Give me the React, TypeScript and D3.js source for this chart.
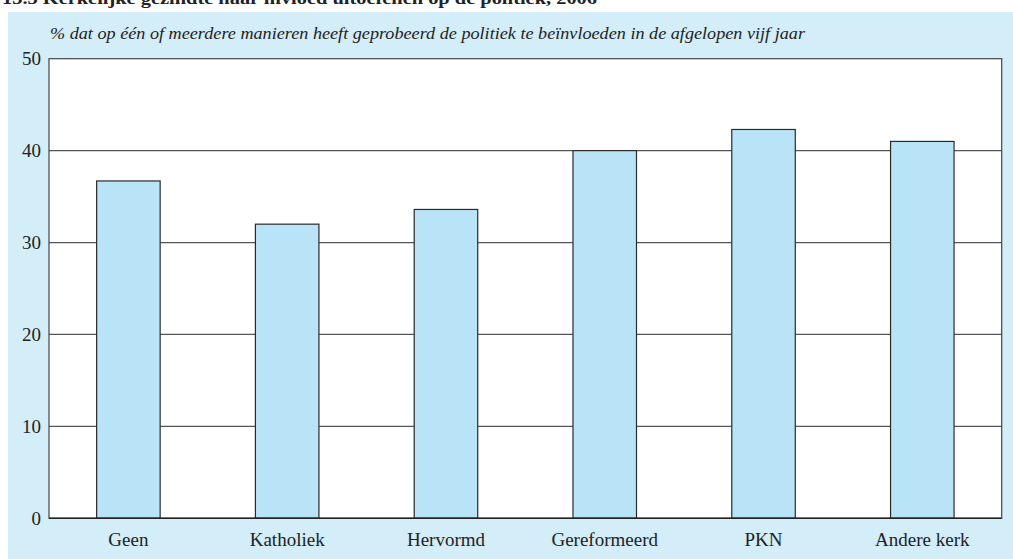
import { useEffect, useRef } from 'react';
import * as d3 from 'd3';

// Kerkelijke gezindte, % politieke invloed uitgeoefend
const CATEGORIES = ['Geen', 'Katholiek', 'Hervormd', 'Gereformeerd', 'PKN', 'Andere kerk'];
const VALUES = [36.7, 32.0, 33.6, 40.0, 42.3, 41.0];
const Y_TICKS = [0, 10, 20, 30, 40, 50];

const TITLE = '13.3 Kerkelijke gezindte naar invloed uitoefenen op de politiek, 2006';
const SUBTITLE =
  '% dat op één of meerdere manieren heeft geprobeerd de politiek te beïnvloeden in de afgelopen vijf jaar';

const WIDTH = 1013;
const HEIGHT = 559;
const FONT = '"Liberation Serif", "DejaVu Serif", serif';

export default function App() {
  const svgRef = useRef<SVGSVGElement | null>(null);

  useEffect(() => {
    document.body.style.margin = '0';
    if (!svgRef.current) return;

    const svg = d3.select(svgRef.current);
    svg.selectAll('*').remove();

    const margin = { top: 58.7, right: 11.3, bottom: 40.7, left: 49 };
    const innerWidth = WIDTH - margin.left - margin.right;
    const innerHeight = HEIGHT - margin.top - margin.bottom;

    // Title (cut off at the top edge, as in the source page)
    svg.append('text')
      .attr('x', 2)
      .attr('y', 3.5)
      .attr('font-family', FONT)
      .attr('font-weight', 'bold')
      .attr('font-size', 16)
      .attr('textLength', 595)
      .attr('lengthAdjust', 'spacingAndGlyphs')
      .attr('fill', '#222')
      .text(TITLE);

    // Light blue panel
    svg.append('rect')
      .attr('x', 8)
      .attr('y', 12)
      .attr('width', WIDTH - 8)
      .attr('height', HEIGHT - 12)
      .attr('fill', '#d3edf9');

    // Subtitle
    svg.append('text')
      .attr('x', 50)
      .attr('y', 38.5)
      .attr('font-family', FONT)
      .attr('font-style', 'italic')
      .attr('font-size', 17)
      .attr('textLength', 755)
      .attr('lengthAdjust', 'spacingAndGlyphs')
      .attr('fill', '#222')
      .text(SUBTITLE);

    const g = svg.append('g')
      .attr('transform', `translate(${margin.left},${margin.top})`);

    const x = d3.scaleBand<string>()
      .domain(CATEGORIES)
      .range([0, innerWidth])
      .paddingInner(0.6)
      .paddingOuter(0.3);

    const y = d3.scaleLinear()
      .domain([0, 50])
      .range([innerHeight, 0]);

    // Plot background
    g.append('rect')
      .attr('width', innerWidth)
      .attr('height', innerHeight)
      .attr('fill', '#ffffff');

    // Grid lines
    g.append('g')
      .selectAll('line')
      .data(Y_TICKS.filter((d) => d > 0 && d < 50))
      .join('line')
      .attr('x1', 0)
      .attr('x2', innerWidth)
      .attr('y1', (d) => y(d))
      .attr('y2', (d) => y(d))
      .attr('stroke', '#555')
      .attr('stroke-width', 1.2);

    // Bars
    g.append('g')
      .selectAll('rect')
      .data(VALUES)
      .join('rect')
      .attr('x', (_, i) => x(CATEGORIES[i]) as number)
      .attr('y', (d) => y(d))
      .attr('width', x.bandwidth())
      .attr('height', (d) => innerHeight - y(d))
      .attr('fill', '#b9e4f8')
      .attr('stroke', '#2a2a2a')
      .attr('stroke-width', 1.2);

    // Frame
    g.append('rect')
      .attr('width', innerWidth)
      .attr('height', innerHeight)
      .attr('fill', 'none')
      .attr('stroke', '#444')
      .attr('stroke-width', 1.2);

    g.append('line')
      .attr('x1', 0)
      .attr('x2', innerWidth)
      .attr('y1', innerHeight)
      .attr('y2', innerHeight)
      .attr('stroke', '#222')
      .attr('stroke-width', 1.4);

    // Y axis labels
    g.append('g')
      .selectAll('text')
      .data(Y_TICKS)
      .join('text')
      .attr('x', -8)
      .attr('y', (d) => y(d))
      .attr('dy', '0.34em')
      .attr('text-anchor', 'end')
      .attr('font-family', FONT)
      .attr('font-size', 19)
      .attr('fill', '#222')
      .text((d) => d);

    // X axis labels
    g.append('g')
      .selectAll('text')
      .data(CATEGORIES)
      .join('text')
      .attr('x', (d) => (x(d) as number) + x.bandwidth() / 2)
      .attr('y', innerHeight + 28)
      .attr('text-anchor', 'middle')
      .attr('font-family', FONT)
      .attr('font-size', 19)
      .attr('fill', '#222')
      .text((d) => d);
  }, []);

  return <svg ref={svgRef} width={WIDTH} height={HEIGHT} style={{ display: 'block' }} />;
}
